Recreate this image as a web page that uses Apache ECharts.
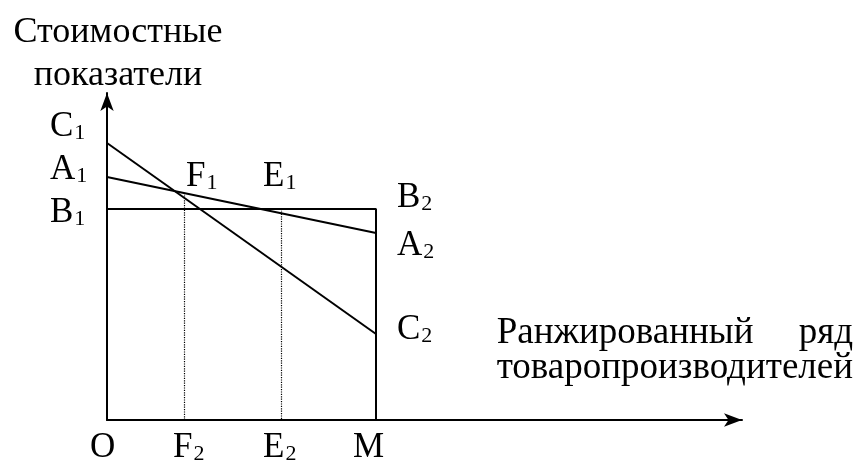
<!DOCTYPE html>
<html>
<head>
<meta charset="utf-8">
<script src="https://cdn.jsdelivr.net/npm/echarts@6.0.0/dist/echarts.min.js"></script>
<style>
  html, body { margin: 0; padding: 0; background: #fff; }
  #chart { width: 859px; height: 463px; }
</style>
</head>
<body>
<div id="chart"></div>
<script>
// axis extents (arbitrary units, origin at O)
const xMax = 635;
const yMax = 327;

// curves: [x, y] pairs
const lineA = [[0, 243], [269, 187]];            // A1 -> A2
const lineC = [[0, 277], [269, 86]];             // C1 -> C2
const lineB = [[0, 211], [269, 211], [269, 0]];  // B1 -> B2 -> M
const dropF = [[77.5, 227], [77.5, 0]];          // F1 -> F2
const dropE = [[174.5, 211], [174.5, 0]];        // E1 -> E2

// point labels: letter, index, x, y
const labelLetters = ["C", "A", "B", "F", "E", "B", "A", "C", "O", "F", "E", "M"];
const labelIndex   = ["1", "1", "1", "1", "1", "2", "2", "2", "", "2", "2", ""];
const labelX = [-57, -57, -57, 79, 156, 290, 290, 290, -17, 66, 156, 246];
const labelY = [293, 250, 207, 243, 243, 222, 174, 90, -28, -28, -28, -28];

const yTitle = ["Стоимостные", "показатели"];
const xTitle = ["Ранжированный", "ряд", "товаропроизводителей"];

const FONT = "Liberation Serif";
const FS = 35;
const FS_X = 37;
const FS_Y = 36;

// width of the gap so that "ряд" ends flush with the second line
const ctx = document.createElement("canvas").getContext("2d");
ctx.font = FS_X + "px \"" + FONT + "\"";
const gap = ctx.measureText(xTitle[2]).width
  - ctx.measureText(xTitle[0]).width - ctx.measureText(xTitle[1]).width;

const chart = echarts.init(document.getElementById("chart"));

const lineSeries = (data, dotted) => ({
  type: "line",
  data: data,
  showSymbol: false,
  silent: true,
  lineStyle: {
    color: "#000",
    width: dotted ? 1.2 : 2,
    type: dotted ? "dotted" : "solid",
  },
});

const labelData = labelLetters.map((l, i) => ({
  value: [labelX[i], labelY[i]],
  letter: l,
  idx: labelIndex[i],
}));

const axisLine = {
  lineStyle: { color: "#000", width: 2 },
  symbol: ["none", "arrow"],
  symbolSize: [10, 18],
};

chart.setOption({
  animation: false,
  backgroundColor: "#fff",
  grid: { left: 107, right: 117, top: 93, bottom: 43, outerBoundsMode: "none", containLabel: false },
  xAxis: {
    type: "value",
    min: 0,
    max: xMax,
    name: "{a|" + xTitle[0] + "}{r|" + xTitle[1] + "}\n{a|" + xTitle[2] + "}",
    nameLocation: "end",
    nameGap: 111,
    nameTextStyle: {
      align: "right",
      verticalAlign: "bottom",
      padding: [0, 0, 34, 0],
      rich: {
        a: { fontFamily: FONT, fontSize: FS_X, color: "#000", lineHeight: 35 },
        r: { fontFamily: FONT, fontSize: FS_X, color: "#000", lineHeight: 35, padding: [0, 0, 0, Math.max(gap, 0)] },
      },
    },
    axisLine: axisLine,
    axisTick: { show: false },
    axisLabel: { show: false },
    splitLine: { show: false },
  },
  yAxis: {
    type: "value",
    min: 0,
    max: yMax,
    name: yTitle.join("\n"),
    nameLocation: "end",
    nameGap: -4,
    nameTextStyle: {
      fontFamily: FONT,
      fontSize: FS_Y,
      color: "#000",
      lineHeight: 43,
      align: "center",
      verticalAlign: "bottom",
      padding: [0, 0, 0, 22],
    },
    axisLine: axisLine,
    axisTick: { show: false },
    axisLabel: { show: false },
    splitLine: { show: false },
  },
  series: [
    lineSeries(lineA),
    lineSeries(lineC),
    lineSeries(lineB),
    lineSeries(dropF, true),
    lineSeries(dropE, true),
    {
      type: "scatter",
      data: labelData,
      symbolSize: 0,
      clip: false,
      silent: true,
      itemStyle: { color: "#000", opacity: 1 },
      label: {
        show: true,
        position: "right",
        distance: 0,
        color: "#000",
        opacity: 1,
        formatter: (p) => "{m|" + p.data.letter + "}" + (p.data.idx ? "{s|" + p.data.idx + "}" : ""),
        rich: {
          m: { fontFamily: FONT, fontSize: FS, color: "#000", lineHeight: 34 },
          s: { fontFamily: FONT, fontSize: 22, color: "#000", lineHeight: 22, verticalAlign: "bottom", padding: [0, 0, 0, 1] },
        },
      },
    },
  ],
});
</script>
</body>
</html>
